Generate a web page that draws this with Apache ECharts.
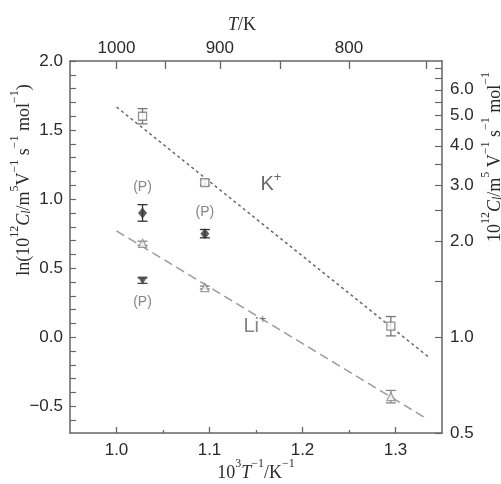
<!DOCTYPE html>
<html><head><meta charset="utf-8">
<script src="https://cdn.jsdelivr.net/npm/echarts@6/dist/echarts.min.js"></script>
<style>html,body{margin:0;padding:0;background:#fff}#c{width:501px;height:484px}</style>
</head><body><div id="c"></div>
<script>
// ---- data ----
const kX = [1.028, 1.095, 1.295];
const kY = [1.60, 1.12, 0.08];
const kErr = [0.055, 0.02, 0.07];
const liX = [1.028, 1.095, 1.295];
const liY = [0.68, 0.36, -0.43];
const liErr = [0.015, 0.01, 0.045];
const pDiaX = [1.028, 1.095];
const pDiaY = [0.90, 0.75];
const pDiaErr = [0.06, 0.03];
const pTriX = [1.028];
const pTriY = [0.41];
const pTriErr = [0.02];
const kFitX = [1.0, 1.335];
const kFitY = [1.667, -0.14];
const liFitX = [1.0, 1.335];
const liFitY = [0.77, -0.595];
const kLabelPos = [1.166, 1.117];
const liLabelPos = [1.149, 0.09];
// ---- tick labels ----
const bottomTickLabels = [1.0, 1.1, 1.2, 1.3];
const bottomMinorTicks = [1.05, 1.15, 1.25];
const topTickLabels = [1000, 900, 800];
const topTicks = [1000, 950, 900, 850, 800, 750];
const leftTickLabels = [-0.5, 0.0, 0.5, 1.0, 1.5, 2.0];
const rightTickLabels = [0.5, 1.0, 2.0, 3.0, 4.0, 5.0, 6.0];
const rightTicks = [0.5, 1.0, 1.5, 2.0, 2.5, 3.0, 3.5, 4.0, 4.5, 5.0, 5.5, 6.0, 6.5, 7.0];

const leftTicks = [];
for (let i = -6; i <= 20; i++) leftTicks.push(i / 10);
const yMin = Math.log(0.5), yMax = 2.0, xMin = 0.95, xMax = 1.35;
const AX = '#666', TXT = '#2a2a2a';
const SANS = '"Liberation Sans", Arial, sans-serif';
const SERIF = '"Liberation Serif", "Times New Roman", serif';
const gridRect = {left: 70, right: 59, top: 61, bottom: 51, outerBoundsMode: 'none', containLabel: false};

const nameRich = {
  n: {fontFamily: SERIF, fontSize: 18, color: TXT, lineHeight: 24, verticalAlign: 'bottom'},
  i: {fontFamily: SERIF, fontSize: 18, color: TXT, fontStyle: 'italic', lineHeight: 24, verticalAlign: 'bottom'},
  sup: {fontFamily: SERIF, fontSize: 12, color: TXT, lineHeight: 12, verticalAlign: 'top'},
  sub: {fontFamily: SERIF, fontSize: 12, color: TXT, fontStyle: 'italic', lineHeight: 12, verticalAlign: 'bottom'}
};

function errSeries(xs, ys, es, color) {
  return {
    type: 'custom', xAxisIndex: 0, yAxisIndex: 0, z: 3, silent: true,
    data: xs.map((x, i) => [x, ys[i] - es[i], ys[i] + es[i]]),
    encode: {x: 0, y: [1, 2]},
    renderItem(params, api) {
      const x = api.value(0);
      const lo = api.coord([x, api.value(1)]);
      const hi = api.coord([x, api.value(2)]);
      const w = 5;
      const st = {stroke: color, lineWidth: 1.3};
      return {type: 'group', children: [
        {type: 'line', shape: {x1: lo[0], y1: lo[1], x2: hi[0], y2: hi[1]}, style: st},
        {type: 'line', shape: {x1: lo[0] - w, y1: lo[1], x2: lo[0] + w, y2: lo[1]}, style: st},
        {type: 'line', shape: {x1: hi[0] - w, y1: hi[1], x2: hi[0] + w, y2: hi[1]}, style: st}
      ]};
    }
  };
}
const zip = (a, b) => a.map((v, i) => [v, b[i]]);
const pLabel = {show: true, formatter: '(P)', color: '#666', fontSize: 14, fontFamily: SANS};
const axLine = {show: true, onZero: false, lineStyle: {color: AX, width: 1.5}};
const ionRich = c => ({
  a: {fontSize: 20, color: c, fontFamily: SANS, lineHeight: 24, verticalAlign: 'bottom'},
  s: {fontSize: 13, color: c, fontFamily: SANS, lineHeight: 13, verticalAlign: 'top'}
});

const chart = echarts.init(document.getElementById('c'), null, {renderer: 'canvas'});
chart.setOption({
  animation: false,
  backgroundColor: '#fff',
  grid: [Object.assign({}, gridRect), Object.assign({}, gridRect)],
  xAxis: [
    {
      type: 'value', gridIndex: 0, position: 'bottom', min: xMin, max: xMax,
      axisLine: axLine,
      axisTick: {show: true, inside: true, length: 6, customValues: bottomTickLabels, lineStyle: {color: AX, width: 1.3}},
      axisLabel: {customValues: bottomTickLabels, formatter: v => v.toFixed(1), fontSize: 17, color: TXT, fontFamily: SANS, margin: 9},
      splitLine: {show: false},
      name: '{n|10}{sup|3}{i|T}{sup|−1}{n|/K}{sup|−1}', nameLocation: 'middle', nameGap: 25, nameMoveOverlap: false,
      nameTextStyle: {rich: nameRich}
    },
    {
      type: 'value', gridIndex: 0, position: 'top', min: xMin, max: xMax,
      axisLine: axLine,
      axisTick: {show: true, inside: true, length: 8, customValues: topTicks.map(t => 1000 / t), lineStyle: {color: AX, width: 1.3}},
      axisLabel: {customValues: topTickLabels.map(t => 1000 / t), formatter: v => String(Math.round(1000 / v)), fontSize: 17, color: TXT, fontFamily: SANS, margin: 4},
      splitLine: {show: false},
      name: '{i|T}{n|/K}', nameLocation: 'middle', nameGap: 27, nameMoveOverlap: false,
      nameTextStyle: {rich: nameRich, padding: [0, 28, 0, 0]}
    },
    {
      type: 'value', gridIndex: 1, position: 'bottom', min: xMin, max: xMax,
      axisLine: {show: false, onZero: false},
      axisTick: {show: true, inside: true, length: 3, customValues: bottomMinorTicks, lineStyle: {color: AX, width: 1.3}},
      axisLabel: {show: false}, splitLine: {show: false}
    }
  ],
  yAxis: [
    {
      type: 'value', gridIndex: 0, position: 'left', min: yMin, max: yMax,
      axisLine: axLine,
      axisTick: {show: true, inside: true, length: 6, customValues: leftTicks, lineStyle: {color: AX, width: 1.2}},
      axisLabel: {customValues: leftTickLabels, formatter: v => (v < 0 ? '−' : '') + Math.abs(v).toFixed(1), fontSize: 17, color: TXT, fontFamily: SANS, margin: 7},
      splitLine: {show: false},
      name: '{n|ln(10}{sup|12}{i|C}{sub|l}{n|/m}{sup|5}{n|V}{sup|−1}{n| s}{sup|−1}{n| mol}{sup|−1}{n|)}',
      nameLocation: 'middle', nameRotate: 90, nameGap: 37, nameMoveOverlap: false,
      nameTextStyle: {rich: nameRich, padding: [0, 0, 0, 134]}
    },
    {
      type: 'value', gridIndex: 0, position: 'right', min: yMin, max: yMax,
      axisLine: axLine,
      axisTick: {show: true, inside: true, length: 7, customValues: rightTicks.map(Math.log), lineStyle: {color: AX, width: 1.2}},
      axisLabel: {customValues: rightTickLabels.map(Math.log), formatter: v => Math.exp(v).toFixed(1), fontSize: 17, color: TXT, fontFamily: SANS, margin: 8},
      splitLine: {show: false},
      name: '{n|10}{sup|12}{i|C}{sub|l}{n|/m}{sup|5}{n| V}{sup|−1}{n| s}{sup|−1}{n| mol}{sup|−1}',
      nameLocation: 'middle', nameRotate: 90, nameGap: 38, nameMoveOverlap: false,
      nameTextStyle: {rich: nameRich, padding: [0, 0, 0, 180]}
    },
    {type: 'value', gridIndex: 1, min: yMin, max: yMax, show: false}
  ],
  series: [
    {type: 'line', xAxisIndex: 0, yAxisIndex: 0, data: zip(kFitX, kFitY), symbol: 'none', z: 1,
      lineStyle: {color: '#6a6a6a', width: 1.5, type: [3, 3]}},
    {type: 'line', xAxisIndex: 0, yAxisIndex: 0, data: zip(liFitX, liFitY), symbol: 'none', z: 1,
      lineStyle: {color: '#9a9a9a', width: 1.5, type: [9, 5]}},
    errSeries(kX, kY, kErr, '#777'),
    errSeries(liX, liY, liErr, '#888'),
    errSeries(pDiaX, pDiaY, pDiaErr, '#333'),
    errSeries(pTriX, pTriY, pTriErr, '#444'),
    {type: 'scatter', xAxisIndex: 0, yAxisIndex: 0, data: zip(kX, kY), symbol: 'rect', symbolSize: 8, z: 4,
      itemStyle: {color: '#fff', borderColor: '#777', borderWidth: 1.3}},
    {type: 'scatter', xAxisIndex: 0, yAxisIndex: 0, data: zip(liX, liY), symbol: 'triangle', symbolSize: 8, z: 4,
      itemStyle: {color: '#fff', borderColor: '#888', borderWidth: 1.3}},
    {type: 'scatter', xAxisIndex: 0, yAxisIndex: 0, symbol: 'diamond', symbolSize: [9, 11], z: 4,
      itemStyle: {color: '#333'},
      data: [
        {value: [pDiaX[0], pDiaY[0]], label: Object.assign({position: 'top', distance: 13}, pLabel)},
        {value: [pDiaX[1], pDiaY[1]], label: Object.assign({position: 'top', distance: 9}, pLabel)}
      ]},
    {type: 'scatter', xAxisIndex: 0, yAxisIndex: 0, symbol: 'triangle', symbolRotate: 180, symbolSize: [10, 8], z: 4,
      itemStyle: {color: '#444'},
      data: [{value: [pTriX[0], pTriY[0]], label: Object.assign({position: 'bottom', distance: 11}, pLabel)}]},
    {type: 'scatter', xAxisIndex: 0, yAxisIndex: 0, symbol: 'circle', symbolSize: 1, silent: true, z: 5,
      itemStyle: {color: 'rgba(0,0,0,0)'},
      data: [
        {value: kLabelPos, label: {show: true, position: 'inside', formatter: '{a|K}{s|+}', rich: ionRich('#444')}},
        {value: liLabelPos, label: {show: true, position: 'inside', formatter: '{a|Li}{s|+}', rich: ionRich('#666')}}
      ]}
  ]
});
</script>
</body></html>
